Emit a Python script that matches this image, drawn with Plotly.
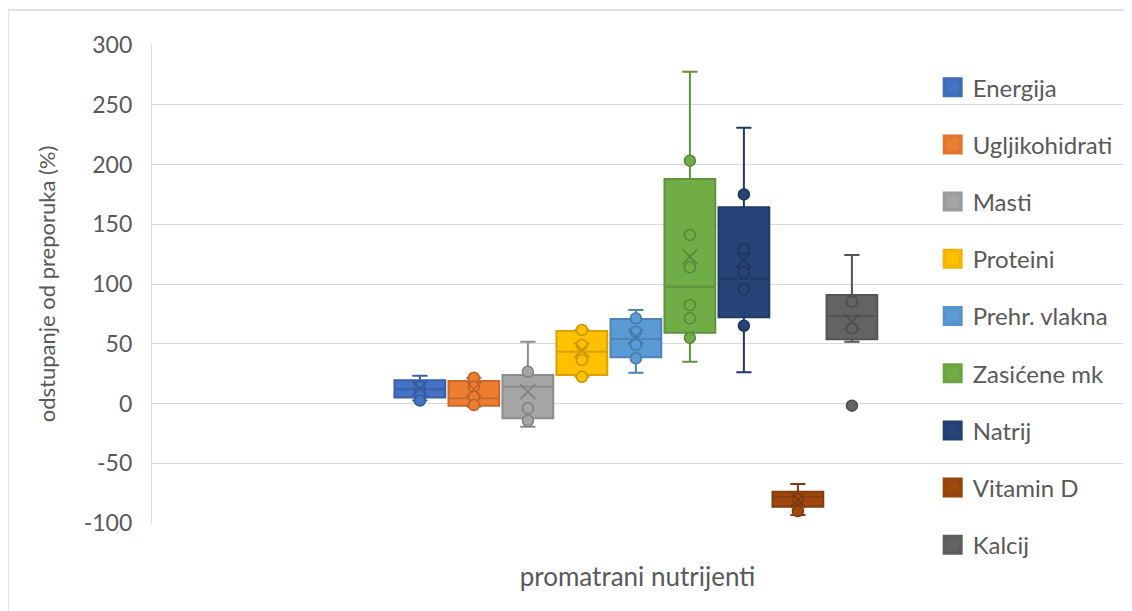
import plotly.graph_objects as go

# ---- data ----
series = ["Energija", "Ugljikohidrati", "Masti", "Proteini", "Prehr. vlakna",
          "Zasićene mk", "Natrij", "Vitamin D", "Kalcij"]
whisker_low = [2.5, -2.5, -19.4, 22.4, 25.8, 35.0, 26.1, -93.3, 51.7]
q1_vals = [5.0, -1.8, -12.4, 23.8, 38.7, 59.3, 72.1, -86.4, 53.7]
median_vals = [12.0, 4.3, 14.0, 43.4, 54.0, 97.7, 104.4, -78.0, 73.2]
q3_vals = [19.5, 18.8, 23.8, 60.7, 70.7, 187.9, 164.2, -73.8, 90.8]
whisker_high = [23.3, 21.6, 51.7, 61.5, 78.2, 277.7, 230.8, -67.4, 124.3]
mean_vals = [12.5, 11.9, 9.9, 44.8, 56.0, 122.8, 120.0, -80.7, 68.5]
points = [
    [14.0, 8.5, 2.5],
    [21.6, 14.0, 5.7, -1.3],
    [26.6, -4.0, -14.4],
    [61.5, 49.0, 36.4, 22.4],
    [71.3, 60.0, 49.0, 37.8],
    [203.2, 141.0, 114.0, 82.4, 71.3, 55.0],
    [175.0, 129.3, 109.8, 95.8, 65.1],
    [-90.0, -80.0],
    [85.2, 62.9, -1.8],
]
y_ticks = [-100, -50, 0, 50, 100, 150, 200, 250, 300]
y_tick_labels = ["-100", "-50", "0", "50", "100", "150", "200", "250", "300"]

# ---- styles ----
fills = ["#4472C4", "#ED7D31", "#A5A5A5", "#FFC000", "#5B9BD5",
         "#70AD47", "#264478", "#9E480E", "#636363"]


def darker(hex_color, f=0.85):
    h = hex_color.lstrip("#")
    r, g, b = (int(h[i:i + 2], 16) for i in (0, 2, 4))
    return "#%02X%02X%02X" % (int(r * f), int(g * f), int(b * f))


FONT = "Lato, Carlito, 'Open Sans', sans-serif"
TXT = "#595959"
GRID = "#D9D9D9"

fig = go.Figure()

for i, name in enumerate(series):
    line_c = darker(fills[i])
    fig.add_trace(go.Box(
        x=[i], q1=[q1_vals[i]], median=[median_vals[i]], q3=[q3_vals[i]],
        lowerfence=[whisker_low[i]], upperfence=[whisker_high[i]],
        width=0.94, whiskerwidth=0.3, boxpoints=False,
        fillcolor=fills[i], line=dict(color=line_c, width=2),
        name=name, showlegend=False, hoverinfo="skip",
    ))

for i, name in enumerate(series):
    line_c = darker(fills[i], 0.78)
    fig.add_trace(go.Scatter(
        x=[i] * len(points[i]), y=points[i], mode="markers",
        marker=dict(symbol="circle", size=11, color=fills[i],
                    line=dict(color=line_c, width=1.5)),
        showlegend=False, hoverinfo="skip",
    ))
    fig.add_trace(go.Scatter(
        x=[i], y=[mean_vals[i]], mode="markers",
        marker=dict(symbol="x-thin", size=15,
                    line=dict(color=line_c, width=1.6)),
        showlegend=False, hoverinfo="skip",
    ))

# legend entries (square swatches)
for i, name in enumerate(series):
    fig.add_trace(go.Scatter(
        x=[None], y=[None], mode="markers", name=name, legendgroup=name,
        marker=dict(symbol="square", size=16, color=fills[i],
                    line=dict(color=darker(fills[i], 0.95), width=4)),
    ))

fig.update_layout(
    width=1124, height=603,
    margin=dict(l=144, r=9, t=37, b=88),
    paper_bgcolor="white", plot_bgcolor="white",
    font=dict(family=FONT, color=TXT, size=18),
    showlegend=True,
    legend=dict(
        x=0.804, xanchor="left", y=0.958, yanchor="top",
        bgcolor="rgba(0,0,0,0)", font=dict(size=24, color=TXT, family=FONT),
        tracegroupgap=23, itemsizing="trace", itemwidth=30,
        maxheight=700,
    ),
    xaxis=dict(
        range=[-4.96, 13.02], showticklabels=False, showgrid=False,
        zeroline=False, showline=False, ticks="",
        title=dict(text="promatrani nutrijenti", standoff=44,
                   font=dict(size=26, color=TXT, family=FONT)),
    ),
    yaxis=dict(
        range=[-100, 300], tickvals=y_ticks, ticktext=y_tick_labels,
        showgrid=True, gridcolor=GRID,
        gridwidth=1.3, zeroline=False, showline=True, linecolor=GRID,
        linewidth=1.3, ticks="", ticklabelstandoff=14,
        tickfont=dict(size=23, color=TXT, family=FONT),
        title=dict(text="odstupanje od preporuka (%)", standoff=21,
                   font=dict(size=22, color=TXT, family=FONT)),
    ),
)

# outer chart border
fig.add_shape(type="rect", xref="paper", yref="paper",
              x0=(0 - 144) / 971, x1=(1160 - 144) / 971,
              y0=(515 - 640) / 478, y1=(515 - 2) / 478,
              line=dict(color=GRID, width=1.3), layer="below")

fig.write_html("out.html")
